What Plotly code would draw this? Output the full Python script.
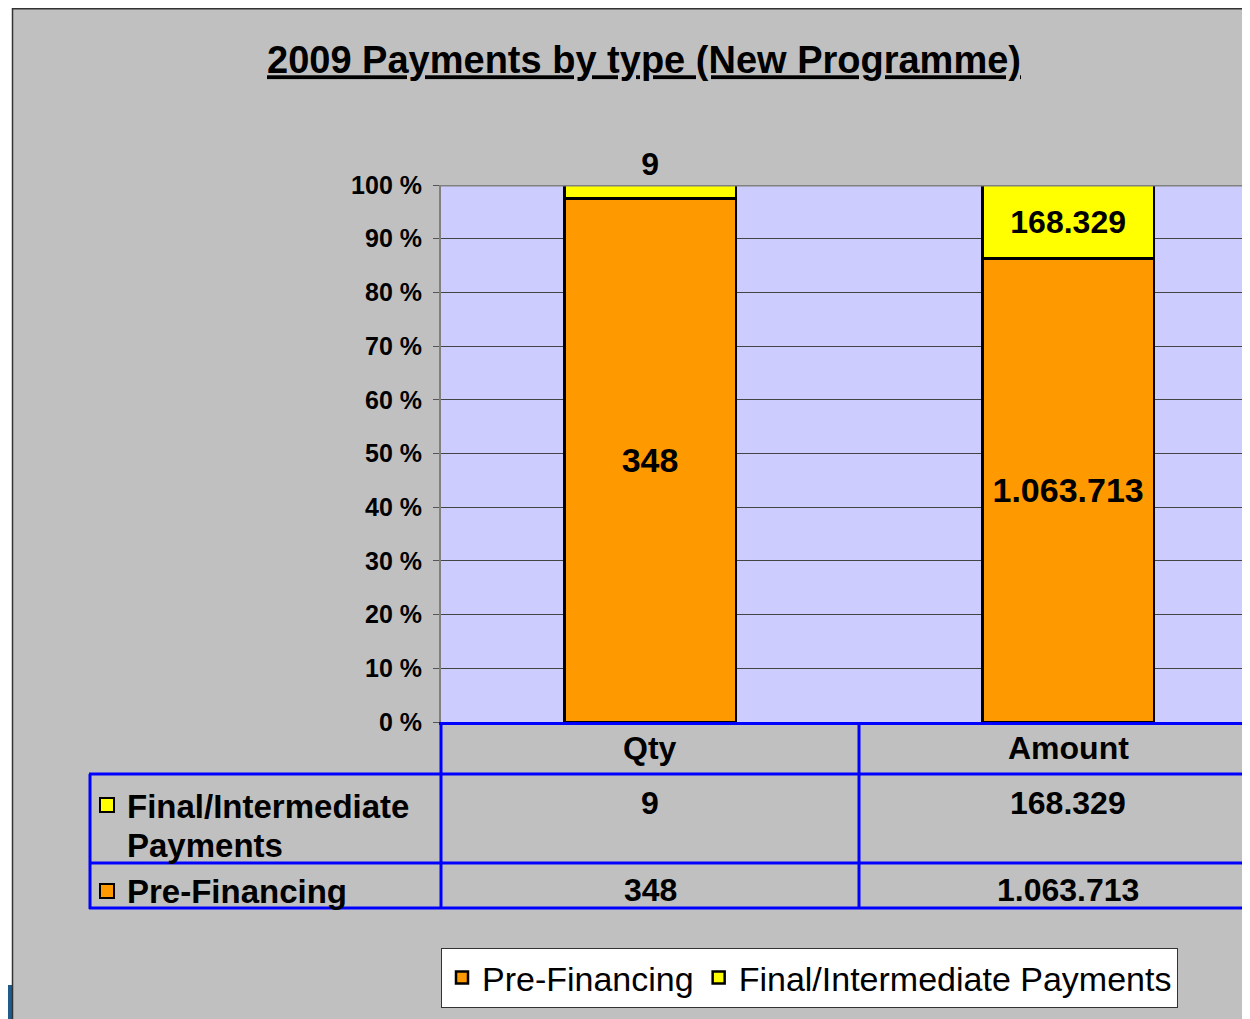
import plotly.graph_objects as go

# ---- data ----
categories = ["Qty", "Amount"]
series_names = ["Pre-Financing", "Final/Intermediate Payments"]
pre_financing = [348, 1063713]
final_payments = [9, 168329]
table_row_labels = ["Final/Intermediate<br>Payments", "Pre-Financing"]
y_ticks = [0, 10, 20, 30, 40, 50, 60, 70, 80, 90, 100]

ORANGE = "#FF9900"
YELLOW = "#FFFF00"
BLUE = "#0000FF"
OFF = 8  # browser body margin
FW, FH = 1242, 1011
FONT = "Liberation Sans, Arial, sans-serif"


def fmt(v):
    return f"{v:,}".replace(",", ".")


def px(x):
    return (x - OFF) / FW


def py(y):
    return 1 - (y - OFF) / FH


fig = go.Figure()
fig.add_trace(go.Bar(
    name=series_names[0], x=categories, y=pre_financing,
    marker=dict(color=ORANGE, line=dict(color="black", width=2.5)),
    text=[fmt(v) for v in pre_financing], textposition="inside",
    insidetextanchor="middle", constraintext="none",
    textfont=dict(family=FONT, size=34, color="black", weight="bold"),
    width=0.41,
))
fig.add_trace(go.Bar(
    name=series_names[1], x=categories, y=final_payments,
    marker=dict(color=YELLOW, line=dict(color="black", width=2.5)),
    text=[fmt(v) for v in final_payments], textposition=["outside", "inside"],
    insidetextanchor="middle", constraintext="none", cliponaxis=False,
    textfont=dict(family=FONT, size=32, color="black", weight="bold"),
    width=0.41,
))

x0p = px(441)
fig.update_layout(
    width=FW, height=FH,
    barmode="stack", barnorm="percent",
    paper_bgcolor="#C0C0C0", plot_bgcolor="#CCCCFF",
    margin=dict(l=0, r=0, t=0, b=0, pad=0, autoexpand=False),
    font=dict(family=FONT, color="black"),
    title=dict(text="<u><b>2009 Payments by type (New Programme)</b></u>",
               x=px(644), xanchor="center", y=py(60), yanchor="middle",
               xref="paper", yref="paper", automargin=False,
               font=dict(size=38, family=FONT, color="black")),
    xaxis=dict(domain=[x0p, 1], range=[-0.5, 1.435], showticklabels=False,
               showgrid=False, zeroline=False, showline=True, linecolor=BLUE,
               linewidth=3, ticks="", automargin=False),
    yaxis=dict(domain=[py(722), py(185)], range=[0, 100], tickvals=y_ticks,
               ticktext=[f"{v} %" for v in y_ticks], automargin=False,
               showgrid=True, gridcolor="#444444", gridwidth=1,
               zeroline=False, showline=True, linecolor="#808080", linewidth=2,
               ticks="outside", ticklen=6, tickcolor="#555555", ticklabelstandoff=6,
               tickfont=dict(size=25, family=FONT, color="black", weight="bold")),
    showlegend=True,
    legend=dict(orientation="h", x=px(441), xanchor="left", y=py(948), yanchor="top",
                traceorder="normal",
                bgcolor="white", bordercolor="#333333", borderwidth=1,
                font=dict(size=34, family=FONT, color="black")),
)

shapes = []
# page frame: white strip, dark border line, blue patch
shapes.append(dict(type="rect", xref="paper", yref="paper", x0=0, x1=px(12), y0=0, y1=1,
                   fillcolor="white", line=dict(width=0)))
shapes.append(dict(type="rect", xref="paper", yref="paper", x0=0, x1=px(12), y0=0, y1=py(985),
                   fillcolor="#1F5C8C", line=dict(width=0)))
shapes.append(dict(type="line", xref="paper", yref="paper", x0=px(12.5), x1=px(12.5), y0=0, y1=1,
                   line=dict(color="#333333", width=1.5)))
shapes.append(dict(type="line", xref="paper", yref="paper", x0=px(12), x1=1, y0=py(8.75), y1=py(8.75),
                   line=dict(color="#333333", width=1.5)))
# top plot border
shapes.append(dict(type="line", xref="paper", yref="y", x0=x0p, x1=1, y0=100, y1=100,
                   line=dict(color="#808080", width=3)))
# data table lines
tl = dict(color=BLUE, width=3)
shapes.append(dict(type="line", xref="paper", yref="paper", x0=px(441), x1=px(441), y0=py(722), y1=py(909), line=tl))
shapes.append(dict(type="line", xref="paper", yref="paper", x0=px(859), x1=px(859), y0=py(722), y1=py(909), line=tl))
shapes.append(dict(type="line", xref="paper", yref="paper", x0=px(90), x1=px(90), y0=py(774), y1=py(909), line=tl))
for yy in (774, 863, 908):
    shapes.append(dict(type="line", xref="paper", yref="paper", x0=px(89), x1=1, y0=py(yy), y1=py(yy), line=tl))
# legend keys in table
for yy, col in ((805, YELLOW), (891, ORANGE)):
    shapes.append(dict(type="rect", xref="paper", yref="paper", x0=px(100), x1=px(114),
                       y0=py(yy + 7), y1=py(yy - 7), fillcolor=col,
                       line=dict(color="black", width=2)))
fig.update_layout(shapes=shapes)

ann = []
tf = dict(family=FONT, size=32, color="black", weight="bold")
for i, c in enumerate(categories):
    ann.append(dict(x=i, xref="x", y=py(748), yref="paper", text=c, showarrow=False,
                    font=tf, xanchor="center", yanchor="middle"))
    ann.append(dict(x=i, xref="x", y=py(803), yref="paper", text=fmt(final_payments[i]),
                    showarrow=False, font=tf, xanchor="center", yanchor="middle"))
    ann.append(dict(x=i, xref="x", y=py(890), yref="paper", text=fmt(pre_financing[i]),
                    showarrow=False, font=tf, xanchor="center", yanchor="middle"))
lf = dict(family=FONT, size=33, color="black", weight="bold")
row_lines = table_row_labels[0].split("<br>") + [table_row_labels[1]]
for txt, yy in zip(row_lines, (806, 845, 891)):
    ann.append(dict(x=px(125), y=py(yy), xref="paper", yref="paper", text=txt,
                    showarrow=False, font=lf, xanchor="left", yanchor="middle", align="left"))
fig.update_layout(annotations=ann)

fig.write_html("out.html")
